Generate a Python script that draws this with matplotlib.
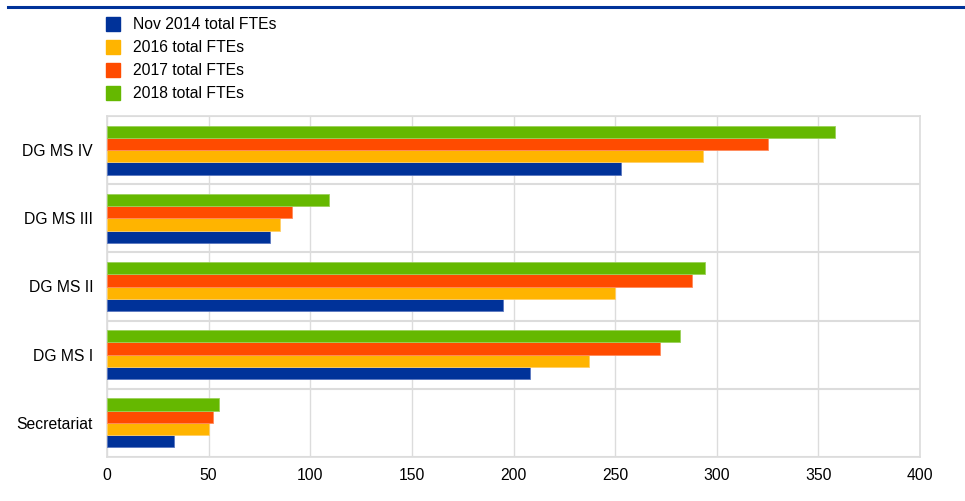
import matplotlib
matplotlib.use("Agg")
import matplotlib.pyplot as plt
from matplotlib.lines import Line2D
import numpy as np

plt.rcParams['font.family'] = ['Liberation Sans', 'DejaVu Sans']

categories = ["Secretariat", "DG MS I", "DG MS II", "DG MS III", "DG MS IV"]
series_labels = ["Nov 2014 total FTEs", "2016 total FTEs", "2017 total FTEs", "2018 total FTEs"]
fte_nov2014 = [33, 208, 195, 80, 253]
fte_2016 = [50, 237, 250, 85, 293]
fte_2017 = [52, 272, 288, 91, 325]
fte_2018 = [55, 282, 294, 109, 358]
x_ticks = [0, 50, 100, 150, 200, 250, 300, 350, 400]

colors = ["#003299", "#FFB400", "#FF4B00", "#65B800"]
edge_colors = ["#5a77c0", "#ffcf66", "#ff8a5c", "#9bd15a"]
series = [fte_nov2014, fte_2016, fte_2017, fte_2018]

fig = plt.figure(figsize=(9.65, 5.01), dpi=100)
ax = fig.add_axes([107 / 965, 1 - 457 / 501, (920 - 107) / 965, (457 - 116) / 501])

y = np.arange(len(categories))
bar_h = 0.18
for i, (vals, c, ec, lab) in enumerate(zip(series, colors, edge_colors, series_labels)):
    offset = (1.5 - i) * bar_h
    # bars stack downward from 2018 (top) to Nov 2014 (bottom)
    ax.barh(y - offset, vals, height=bar_h, color=c, edgecolor=ec,
            linewidth=0.6, label=lab, zorder=3)

ax.set_xlim(0, 400)
ax.set_ylim(-0.5, len(categories) - 0.5)
ax.set_xticks(x_ticks)
ax.set_xticklabels([str(t) for t in x_ticks])
ax.set_yticks(y)
ax.set_yticklabels(categories)

ax.set_yticks(np.arange(-0.5, len(categories), 1.0), minor=True)
ax.grid(axis='x', which='major', color='#dcdcdc', linewidth=1.0, zorder=0)
ax.grid(axis='y', which='minor', color='#dcdcdc', linewidth=1.5, zorder=0)
ax.grid(axis='y', which='major', visible=False)

for side in ['top', 'right', 'bottom', 'left']:
    ax.spines[side].set_color('#dcdcdc')
    ax.spines[side].set_linewidth(1.2)
ax.tick_params(axis='both', which='both', length=0, labelsize=11.3, colors='#000000')
ax.tick_params(axis='x', pad=8)
ax.tick_params(axis='y', pad=10)

# legend squares
legend_handles = [Line2D([0], [0], marker='s', linestyle='None', markersize=10,
                         markerfacecolor=c, markeredgecolor=c) for c in colors]
fig.legend(legend_handles, series_labels, loc='upper left',
           bbox_to_anchor=(106 / 965, 1 - 17 / 501), frameon=False,
           fontsize=11.3, handlelength=0.9, handletextpad=0.8,
           labelspacing=0.52, borderaxespad=0, borderpad=0)

# top rule
fig.add_artist(Line2D([8 / 965, 1.0], [1 - 7 / 501, 1 - 7 / 501],
                      color='#003299', linewidth=2.2, transform=fig.transFigure))

fig.savefig("out.png", dpi=100)
